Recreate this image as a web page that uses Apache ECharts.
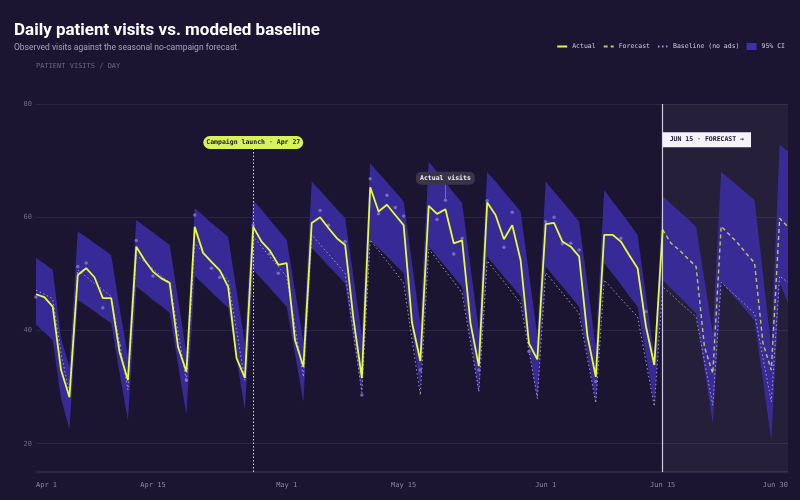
<!DOCTYPE html>
<html><head><meta charset="utf-8">
<script src="https://cdn.jsdelivr.net/npm/echarts@6/dist/echarts.min.js"></script>
<style>html,body{margin:0;padding:0;background:#1c1532;}#c{width:800px;height:500px;}</style>
</head><body><div id="c"></div>
<script>
// ---- data (Apr 1 .. Jun 30, one value per day) ----
const months = ['Apr', 'May', 'Jun'];
const monthDays = [30, 31, 30];
const actual = [46.4,45.9,44.2,33.0,28.2,
49.8,51.0,49.4,45.7,45.7,36.2,31.2,
54.8,52.4,50.4,49.2,48.4,37.1,32.7,
58.3,53.7,52.1,50.6,47.7,35.1,31.6,
58.3,55.7,54.1,51.6,51.9,38.3,33.6,
59.0,60.0,58.1,56.3,55.1,42.0,31.6,
65.3,61.0,62.2,60.4,58.6,41.4,34.6,
62.0,60.6,61.4,55.4,55.9,41.3,33.7,
62.6,60.4,56.1,58.6,52.4,37.7,34.9,
58.8,59.0,55.7,54.8,53.1,39.0,31.8,
56.9,56.9,55.7,53.3,51.0,40.7,33.9,
57.8];
const forecast = [57.8,55.4,54.2,52.7,51.3,37.1,32.4,
58.4,56.9,55.4,53.6,51.9,37.8,33.0,
59.8,58.3];
const baseline = [47.1,46.4,45.6,36.0,28.8,
50.7,49.5,48.3,47.2,46.0,37.8,29.5,
53.3,52.1,50.9,49.6,48.4,39.7,31.0,
55.4,53.8,52.2,50.5,48.9,40.0,31.2,
56.6,54.8,53.0,51.3,49.5,40.6,31.8,
56.9,55.2,53.5,51.8,50.1,39.5,29.0,
56.0,54.1,52.2,50.3,48.4,38.4,28.6,
54.4,52.5,50.5,48.6,46.6,37.9,29.2,
52.3,50.4,48.6,46.7,44.8,36.4,28.0,
50.2,48.4,46.6,44.8,43.0,35.1,27.2,
48.9,47.3,45.6,44.0,42.4,34.5,26.6,
47.7,46.4,45.0,43.7,42.4,34.6,26.8,
48.5,47.1,45.8,44.4,43.0,35.2,27.4,
49.6,48.5];
const ciUpper = [52.8,51.8,50.7,38.6,33.6,
57.5,56.5,55.4,54.4,53.3,44.0,35.4,
59.5,58.4,57.3,56.2,55.1,45.5,36.0,
61.6,60.3,59.0,57.8,56.5,47.0,37.8,
63.0,61.3,59.5,57.8,56.0,47.0,38.0,
66.3,64.7,63.1,61.4,59.8,49.4,39.0,
69.5,67.8,66.2,64.5,62.8,51.9,41.0,
69.8,68.0,66.2,64.3,62.5,51.2,40.0,
68.0,66.3,64.5,62.8,61.0,50.0,39.0,
66.3,64.5,62.8,61.0,59.2,48.1,37.0,
64.8,62.8,60.9,58.9,56.9,46.1,35.4,
63.7,62.4,61.0,59.7,58.3,48.9,39.5,
68.0,66.8,65.5,64.3,63.0,50.0,37.0,
72.8,71.6];
const ciLower = [41.0,39.7,38.3,28.0,22.6,
45.4,44.4,43.4,42.3,41.3,32.5,24.2,
47.7,46.6,45.4,44.3,43.1,34.0,25.1,
49.6,48.2,46.8,45.4,44.0,35.0,26.0,
50.7,49.1,47.5,45.8,44.2,35.8,27.4,
54.5,53.0,51.4,49.9,48.3,38.6,29.0,
56.0,54.5,53.1,51.6,50.1,40.0,29.8,
54.8,53.0,51.3,49.5,47.7,38.4,29.0,
53.0,51.3,49.5,47.8,46.0,36.8,27.7,
51.3,49.5,47.8,46.0,44.2,35.7,27.2,
51.9,50.0,48.1,46.1,44.2,35.6,27.0,
48.9,47.4,46.0,44.5,43.0,33.3,23.6,
48.6,46.9,45.2,43.5,41.8,31.2,20.6,
48.5,44.8];
const samples = [[0,45.9],[5,51.3],[6,51.9],[8,44.0],[10,37.4],[12,55.9],[14,49.6],[18,31.2],[19,60.4],[21,51.0],[22,49.4],
[26,58.6],[28,53.6],[29,50.1],[34,61.2],[35,58.6],[37,55.7],[39,28.6],[40,66.8],[41,60.6],[42,63.9],[43,61.7],[44,60.2],
[46,33.0],[48,59.6],[49,63.0],[50,53.5],[51,56.3],[53,33.0],[54,62.9],[56,54.7],[57,60.9],[59,36.3],[61,59.2],[62,60.0],
[63,55.3],[64,55.4],[65,54.2],[67,31.0],[70,56.3],[73,43.3]];
const xTickLabels = ['Apr 1', 'Apr 15', 'May 1', 'May 15', 'Jun 1', 'Jun 15', 'Jun 30'];
const yTickLabels = [20, 40, 60, 80];
const campaignDay = 'Apr 27';
const forecastDay = 'Jun 15';
const lastDay = 'Jun 30';
const calloutDay = 'May 20';

// ---- build ----
const days = [];
months.forEach((m, i) => { for (let d = 1; d <= monthDays[i]; d++) days.push(m + ' ' + d); });
const fcStart = days.indexOf(forecastDay);
const forecastFull = days.map((_, i) => i < fcStart ? null : forecast[i - fcStart]);
const ciBand = ciUpper.map((u, i) => +(u - ciLower[i]).toFixed(2));
const mono = '"DejaVu Sans Mono", monospace';
const sans = 'Roboto, "Noto Sans", sans-serif';

const chart = echarts.init(document.getElementById('c'), null, {renderer: 'canvas'});
chart.setOption({
  backgroundColor: '#1c1532',
  animation: false,
  title: [
    {text: 'Daily patient visits vs. modeled baseline', left: 9, top: 17, padding: 5,
     textStyle: {color: '#ffffff', fontFamily: sans, fontWeight: 700, fontSize: 17}},
    {text: 'Observed visits against the seasonal no-campaign forecast.', left: 9, top: 38, padding: 5,
     textStyle: {color: '#a7a1bf', fontFamily: sans, fontWeight: 400, fontSize: 8.5}},
    {text: 'PATIENT VISITS / DAY', left: 31, top: 58, padding: 5,
     textStyle: {color: '#6c6684', fontFamily: mono, fontWeight: 400, fontSize: 7}}
  ],
  legend: {
    right: 10, top: 38, itemWidth: 10, itemHeight: 7, itemGap: 7,
    textStyle: {color: '#cdc8de', fontFamily: mono, fontSize: 6.5},
    data: [
      {name: 'Actual', itemStyle: {opacity: 0}},
      {name: 'Forecast', itemStyle: {opacity: 0}},
      {name: 'Baseline (no ads)', itemStyle: {opacity: 0}},
      {name: '95% CI', icon: 'rect'}
    ]
  },
  grid: {left: 36, right: 12, top: 104, bottom: 28, containLabel: false},
  xAxis: {
    type: 'category', data: days, boundaryGap: false,
    axisLine: {show: true, lineStyle: {color: '#342d4c', width: 1.5}},
    axisTick: {show: false},
    splitLine: {show: false},
    axisLabel: {
      color: '#8c87a0', fontFamily: mono, fontSize: 7, margin: 10,
      interval: (idx, val) => xTickLabels.includes(val),
      alignMinLabel: 'left', alignMaxLabel: 'right'
    }
  },
  yAxis: {
    type: 'value', min: 15, max: 80, interval: 5,
    axisLine: {show: false}, axisTick: {show: false},
    axisLabel: {color: '#6e6886', fontFamily: mono, fontSize: 7, margin: 4,
      formatter: v => yTickLabels.includes(v) ? String(v) : ''},
    splitLine: {show: true, lineStyle: {color: ['transparent', '#2b2444', 'transparent', 'transparent'], width: 1}}
  },
  series: [
    {name: 'ciLower', type: 'line', data: ciLower, stack: 'ci', symbol: 'none', silent: true,
     lineStyle: {opacity: 0}, z: 1,
     markArea: {silent: true, itemStyle: {color: 'rgba(255,255,255,0.045)'},
       data: [[{xAxis: forecastDay}, {xAxis: lastDay}]]}},
    {name: '95% CI', type: 'line', data: ciBand, stack: 'ci', symbol: 'none', silent: true,
     lineStyle: {opacity: 0}, itemStyle: {color: '#3f30a8'},
     areaStyle: {color: '#3a2c9e', opacity: 0.92}, z: 2},
    {name: 'Baseline (no ads)', type: 'line', data: baseline, symbol: 'none',
     lineStyle: {color: '#b7aedd', width: 1, type: [1.5, 2.5], opacity: 0.85},
     itemStyle: {color: '#b7aedd'}, z: 3,
     markLine: {silent: true, symbol: 'none', label: {show: false},
       data: [
         [{coord: [forecastDay, 15], lineStyle: {color: '#cfc8e0', width: 1.2, type: 'solid'}},
          {coord: [forecastDay, 80]}],
         [{coord: [campaignDay, 15], lineStyle: {color: '#d8f25c', width: 1, type: [1.5, 2]}},
          {coord: [campaignDay, 72.1]}]
       ]}},
    {name: 'samples', type: 'scatter', data: samples, symbolSize: 3.5, silent: true,
     itemStyle: {color: '#8b7fd4', opacity: 0.75}, z: 4},
    {name: 'Actual', type: 'line', data: actual, symbol: 'none',
     lineStyle: {color: '#e5fc3a', width: 1.8}, itemStyle: {color: '#e5fc3a'}, z: 6,
     markLine: {silent: true, symbol: 'none', label: {show: false},
       data: [[{coord: [calloutDay, 65.8], lineStyle: {color: '#8a849c', width: 0.8, type: 'solid'}},
               {coord: [calloutDay, 63.3]}]]},
     markPoint: {silent: true, symbol: 'rect', symbolSize: 0,
       data: [
         {coord: [campaignDay, 73.2], label: {show: true, position: 'inside', formatter: 'Campaign launch · Apr 27',
           color: '#1c1532', fontFamily: mono, fontWeight: 700, fontSize: 6.5, backgroundColor: '#d8f25c',
           borderRadius: 7, padding: [3, 3, 3, 3]}},
         {coord: [calloutDay, 66.9], label: {show: true, position: 'inside', formatter: 'Actual visits',
           color: '#f1eef8', fontFamily: mono, fontWeight: 700, fontSize: 6.5, backgroundColor: '#3a3448',
           borderRadius: 5, padding: [3, 4, 3, 4]}},
         {coord: [forecastDay, 73.7], label: {show: true, position: 'right', distance: 0, formatter: 'JUN 15 · FORECAST →',
           color: '#1c1532', fontFamily: mono, fontWeight: 700, fontSize: 6.5, backgroundColor: '#f5f3f9',
           borderRadius: 0, padding: [4, 7, 4, 7]}}
       ]}},
    {name: 'Forecast', type: 'line', data: forecastFull, symbol: 'none', connectNulls: false,
     lineStyle: {color: '#bcc45a', width: 1.4, type: [4, 3]}, itemStyle: {color: '#bcc45a'}, z: 5}
  ]
});
</script></body></html>
